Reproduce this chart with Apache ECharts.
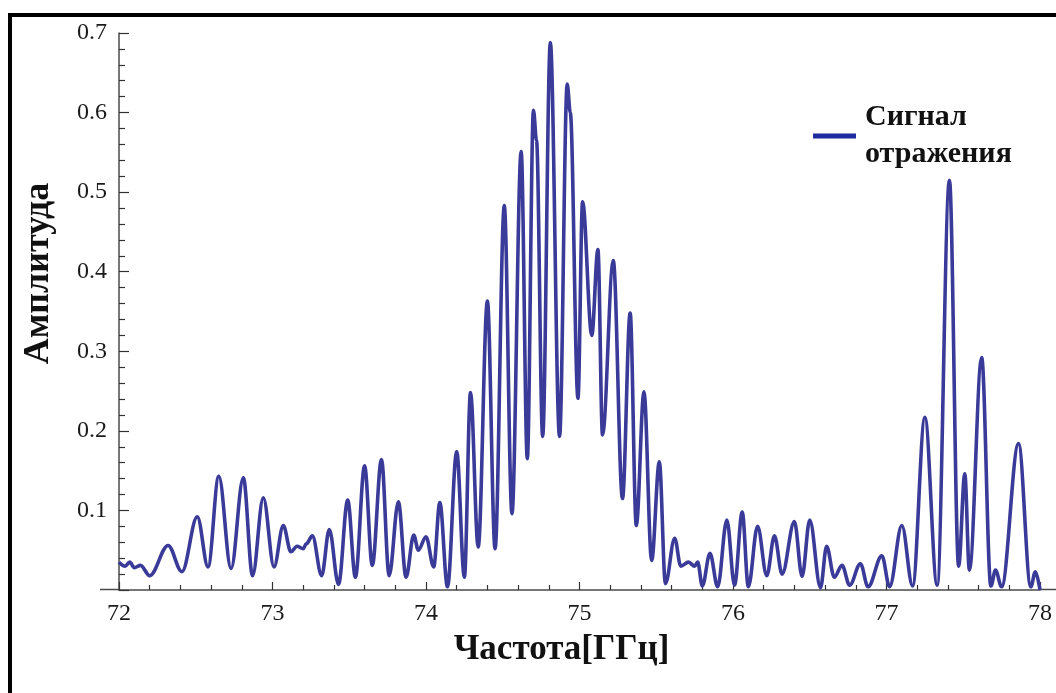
<!DOCTYPE html>
<html>
<head>
<meta charset="utf-8">
<script src="https://cdn.jsdelivr.net/npm/echarts@6/dist/echarts.min.js"></script>
<style>
html,body{margin:0;padding:0;background:#fff;}
#chart{width:1056px;height:693px;}
</style>
</head>
<body>
<div id="chart"></div>
<script>
// Frequency, GHz
const freq = [72.00, 72.04, 72.07, 72.10, 72.14, 72.20, 72.32, 72.41, 72.51, 72.58,
  72.65, 72.73, 72.81, 72.87, 72.94, 73.01, 73.07, 73.12, 73.16, 73.20,
  73.22, 73.26, 73.32, 73.37, 73.43, 73.49, 73.54, 73.60, 73.65, 73.71,
  73.76, 73.82, 73.87, 73.92, 73.95, 74.00, 74.05, 74.09, 74.14, 74.20,
  74.25, 74.29, 74.34, 74.40, 74.45, 74.51, 74.56, 74.62, 74.66, 74.70,
  74.72, 74.76, 74.81, 74.87, 74.92, 74.94, 74.99, 75.02, 75.08, 75.12,
  75.15, 75.22, 75.28, 75.33, 75.37, 75.42, 75.47, 75.52, 75.56, 75.62,
  75.66, 75.71, 75.75, 75.77, 75.80, 75.85, 75.90, 75.96, 76.01, 76.06,
  76.10, 76.16, 76.22, 76.27, 76.32, 76.40, 76.45, 76.50, 76.57, 76.61,
  76.66, 76.71, 76.76, 76.83, 76.88, 76.97, 77.02, 77.10, 77.17, 77.25,
  77.33, 77.41, 77.47, 77.51, 77.54, 77.62, 77.68, 77.71, 77.75, 77.86,
  77.94, 77.97, 78.00];
// Reflected signal amplitude
const amp = [0.035, 0.030, 0.035, 0.028, 0.031, 0.018, 0.056, 0.023, 0.092, 0.029,
  0.143, 0.027, 0.141, 0.018, 0.116, 0.029, 0.081, 0.048, 0.055, 0.052,
  0.058, 0.068, 0.018, 0.076, 0.007, 0.113, 0.016, 0.156, 0.031, 0.164,
  0.018, 0.111, 0.016, 0.069, 0.050, 0.067, 0.029, 0.110, 0.004, 0.174,
  0.016, 0.248, 0.054, 0.363, 0.052, 0.483, 0.096, 0.551, 0.165, 0.603,
  0.565, 0.193, 0.688, 0.193, 0.636, 0.600, 0.241, 0.488, 0.320, 0.428,
  0.195, 0.414, 0.115, 0.348, 0.081, 0.249, 0.037, 0.161, 0.008, 0.065,
  0.030, 0.035, 0.030, 0.035, 0.005, 0.046, 0.004, 0.088, 0.006, 0.098,
  0.004, 0.080, 0.018, 0.068, 0.020, 0.086, 0.017, 0.088, 0.003, 0.055,
  0.016, 0.031, 0.006, 0.033, 0.004, 0.043, 0.004, 0.081, 0.005, 0.217,
  0.006, 0.515, 0.030, 0.146, 0.025, 0.292, 0.005, 0.025, 0.004, 0.184,
  0.004, 0.023, 0.000];

const seriesName = 'Сигнал\nотражения';
const xTitle = 'Частота[ГГц]';
const yTitle = 'Амплитуда';
const xTicks = [72, 73, 74, 75, 76, 77, 78];
const yTicks = [0.1, 0.2, 0.3, 0.4, 0.5, 0.6, 0.7];

const data = freq.map((f, i) => [f, amp[i]]);
const serif = '"Liberation Serif", "DejaVu Serif", serif';

const chart = echarts.init(document.getElementById('chart'), null, {renderer: 'canvas'});
chart.setOption({
  animation: false,
  backgroundColor: '#ffffff',
  grid: {left: 119, right: 16, top: 33, bottom: 103, containLabel: false},
  legend: {
    left: 813, top: 99, padding: 0,
    icon: 'rect', itemWidth: 43, itemHeight: 5,
    data: [{name: seriesName, itemStyle: {color: '#1e2b9c'}}],
    textStyle: {fontFamily: serif, fontWeight: 'bold', fontSize: 30, lineHeight: 37, color: '#111', padding: [0, 0, 0, 4]}
  },
  xAxis: {
    type: 'value', min: 72, max: 78, interval: 1,
    name: xTitle, nameLocation: 'middle', nameGap: 42,
    nameTextStyle: {fontFamily: serif, fontWeight: 'bold', fontSize: 35, color: '#111', padding: [0, 36, 0, 0]},
    axisLine: {show: true, onZero: false, lineStyle: {color: '#4a4a4a', width: 1.5}},
    axisTick: {show: true, inside: true, length: 8, lineStyle: {color: '#333', width: 1.2}},
    minorTick: {show: true, splitNumber: 5, length: 5, lineStyle: {color: '#333', width: 1.2}},
    splitLine: {show: false},
    axisLabel: {fontFamily: serif, fontSize: 24, color: '#1a1a1a', margin: 12,
      formatter: v => xTicks.includes(v) ? String(v) : ''}
  },
  yAxis: {
    type: 'value', min: 0, max: 0.7, interval: 0.1,
    name: yTitle, nameLocation: 'middle', nameGap: 62, nameRotate: 90,
    nameTextStyle: {fontFamily: serif, fontWeight: 'bold', fontSize: 36, color: '#111', padding: [0, 0, 0, 76]},
    axisLine: {show: true, lineStyle: {color: '#4a4a4a', width: 1.5}},
    axisTick: {show: true, inside: true, length: 10, lineStyle: {color: '#333', width: 1.2}},
    minorTick: {show: true, splitNumber: 5, length: 6, lineStyle: {color: '#333', width: 1.2}},
    splitLine: {show: false},
    axisLabel: {fontFamily: serif, fontSize: 24, color: '#1a1a1a', margin: 12,
      formatter: v => {
        const t = yTicks.find(y => Math.abs(y - v) < 1e-9);
        return t === undefined ? '' : t.toFixed(1);
      }}
  },
  graphic: [
    {type: 'line', shape: {x1: 8, y1: 15, x2: 1056, y2: 15}, style: {stroke: '#000', lineWidth: 4}},
    {type: 'line', shape: {x1: 10, y1: 13, x2: 10, y2: 693}, style: {stroke: '#000', lineWidth: 4}},
    {type: 'line', shape: {x1: 100, y1: 589.5, x2: 119, y2: 589.5}, style: {stroke: '#4a4a4a', lineWidth: 1.5}},
    {type: 'line', shape: {x1: 1040, y1: 589.5, x2: 1056, y2: 589.5}, style: {stroke: '#4a4a4a', lineWidth: 1.5}}
  ],
  series: [{
    name: seriesName,
    type: 'line',
    data: data,
    showSymbol: false,
    smooth: 0.35,
    smoothMonotone: 'x',
    clip: true,
    lineStyle: {color: '#3a3a98', width: 3.6},
    itemStyle: {color: '#3a3a98'}
  }]
});
</script>
</body>
</html>
